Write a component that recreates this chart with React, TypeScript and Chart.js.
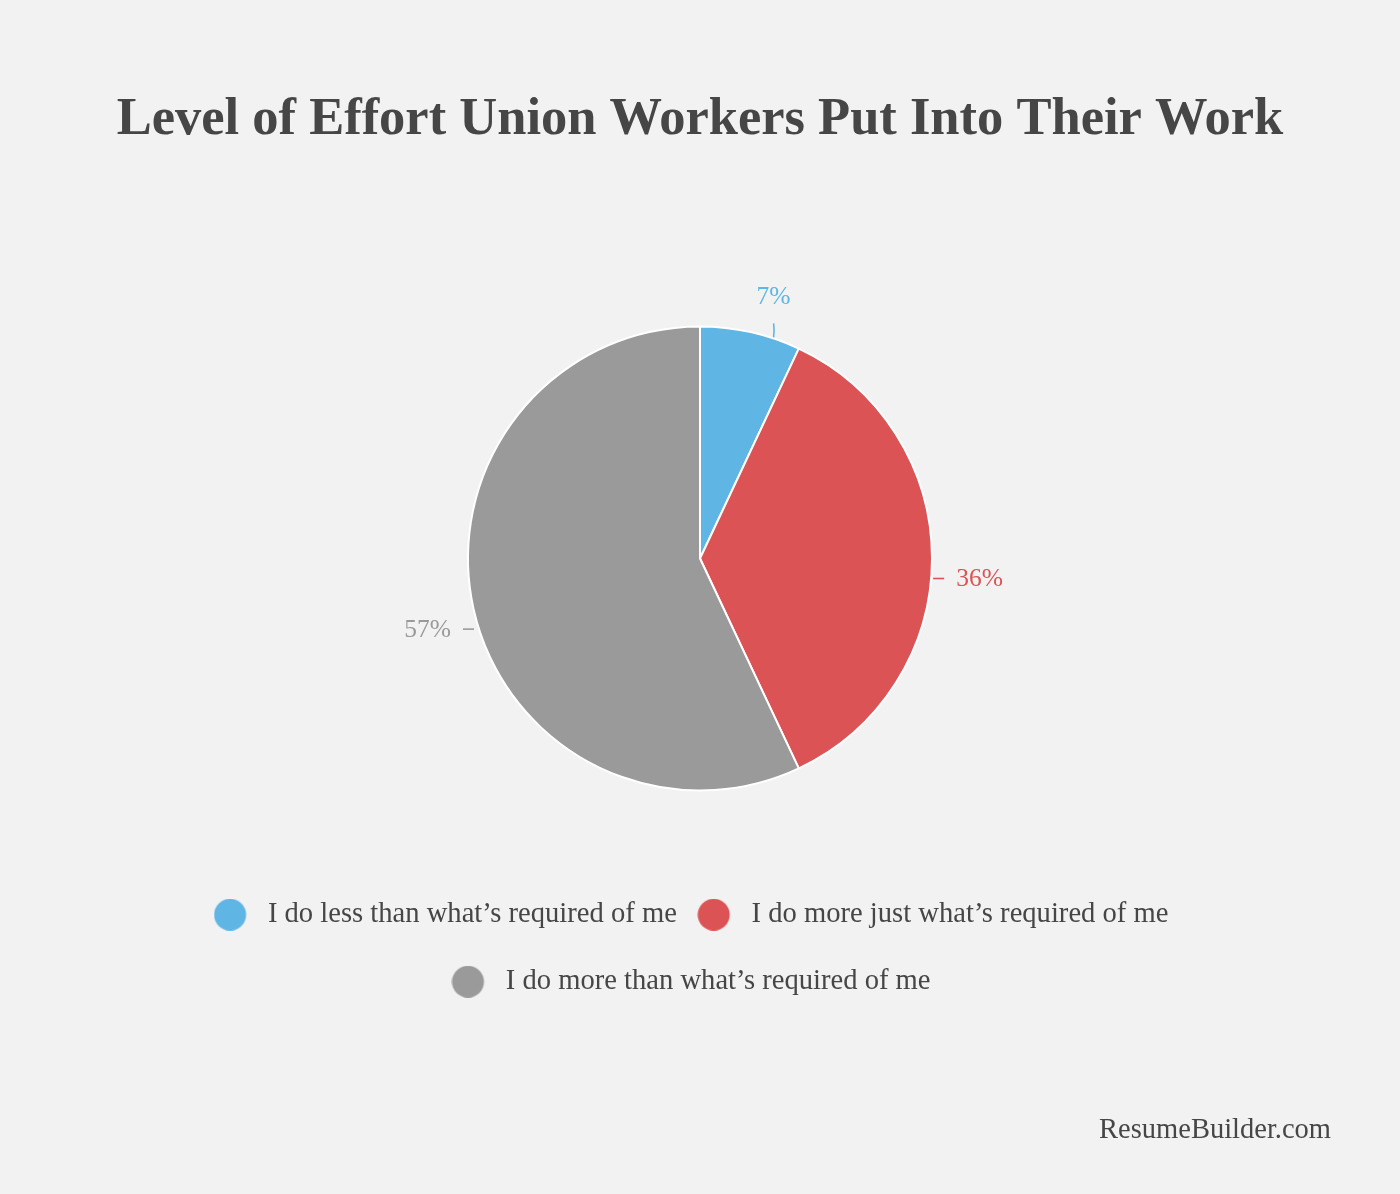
import React, { useEffect, useRef } from "react";
import { Chart, registerables } from "chart.js";

Chart.register(...registerables);

const TITLE = "Level of Effort Union Workers Put Into Their Work";
const SOURCE = "ResumeBuilder.com";
const CATEGORIES = [
  "I do less than what’s required of me",
  "I do more just what’s required of me",
  "I do more than what’s required of me",
];
const VALUES = [7, 36, 57];
const COLORS = ["#5fb5e4", "#dc5355", "#9a9a9a"];

const FONT = "'Liberation Serif', 'DejaVu Serif', serif";
const TEXT_COLOR = "#464646";

function makeDot(color: string): HTMLCanvasElement {
  const c = document.createElement("canvas");
  c.width = 58;
  c.height = 32;
  const g = c.getContext("2d")!;
  g.fillStyle = color;
  g.beginPath();
  g.arc(16.5, 16, 16, 0, Math.PI * 2);
  g.fill();
  return c;
}

const outLabels = {
  id: "outLabels",
  afterDatasetsDraw(chart: any) {
    const meta = chart.getDatasetMeta(0);
    const ctx = chart.ctx as CanvasRenderingContext2D;
    const ds = chart.data.datasets[0];
    meta.data.forEach((arc: any, i: number) => {
      const p = arc.getProps(["x", "y", "outerRadius", "startAngle", "endAngle"], true);
      const cx = p.x, cy = p.y, r = p.outerRadius;
      const mid = (p.startAngle + p.endAngle) / 2;
      const cs = Math.cos(mid), sn = Math.sin(mid);
      const color = ds.backgroundColor[i];
      const text = ds.data[i] + "%";
      ctx.save();
      ctx.strokeStyle = color;
      ctx.fillStyle = color;
      ctx.lineWidth = 1.6;
      ctx.font = `25.5px ${FONT}`;
      ctx.textBaseline = "middle";
      if (Math.abs(sn) > 0.9) {
        const dir = sn < 0 ? -1 : 1;
        const ax = cx + r * cs + 23;
        const ay = cy + dir * Math.sqrt(Math.max(r * r - (ax - cx) * (ax - cx), 0));
        ctx.beginPath();
        ctx.moveTo(ax, ay + dir * 1);
        ctx.quadraticCurveTo(ax + 1, ay + dir * 8, ax, ay + dir * 15);
        ctx.stroke();
        ctx.textAlign = "center";
        ctx.fillText(text, ax, ay + dir * 41);
      } else {
        const side = cs >= 0 ? 1 : -1;
        const ay = cy + r * sn + 20;
        const ax = cx + side * Math.sqrt(Math.max(r * r - (ay - cy) * (ay - cy), 0));
        const near = side > 0 ? 2 : 5;
        ctx.beginPath();
        ctx.moveTo(ax + side * near, ay);
        ctx.lineTo(ax + side * (near + 11), ay);
        ctx.stroke();
        ctx.textAlign = side > 0 ? "left" : "right";
        ctx.fillText(text, ax + side * (near + 23), ay + 1);
      }
      ctx.restore();
    });
  },
};

const footer = {
  id: "footer",
  afterDraw(chart: any) {
    const ctx = chart.ctx as CanvasRenderingContext2D;
    ctx.save();
    ctx.font = `28.5px ${FONT}`;
    ctx.fillStyle = TEXT_COLOR;
    ctx.textAlign = "right";
    ctx.textBaseline = "middle";
    ctx.fillText(SOURCE, 1331, 1131);
    ctx.restore();
  },
};

export default function App() {
  const ref = useRef<HTMLCanvasElement | null>(null);
  useEffect(() => {
    if (!ref.current) return;
    const dots = COLORS.map(makeDot);
    const chart = new Chart(ref.current, {
      type: "pie",
      data: {
        labels: CATEGORIES,
        datasets: [
          {
            data: VALUES,
            backgroundColor: COLORS,
            borderColor: "#ffffff",
            borderWidth: 2,
          },
        ],
      },
      options: {
        responsive: false,
        animation: false,
        radius: 232,
        layout: { padding: { top: 0, bottom: 188, left: 0, right: 0 } },
        plugins: {
          tooltip: { enabled: false },
          title: {
            display: true,
            text: TITLE,
            color: TEXT_COLOR,
            font: { family: FONT, size: 52.5, weight: "bold", lineHeight: 1.2 },
            padding: { top: 88.5, bottom: 103.5 },
          },
          legend: {
            display: true,
            position: "bottom",
            labels: {
              usePointStyle: true,
              pointStyleWidth: 22,
              padding: 38.4,
              color: TEXT_COLOR,
              font: { family: FONT, size: 28.6 },
              generateLabels: (ch: any) =>
                ch.data.labels.map((t: string, i: number) => ({
                  text: t,
                  fillStyle: COLORS[i],
                  strokeStyle: COLORS[i],
                  lineWidth: 0,
                  pointStyle: dots[i],
                  hidden: false,
                  index: i,
                  fontColor: TEXT_COLOR,
                })),
            },
          },
        },
      } as any,
      plugins: [outLabels, footer],
    });
    return () => chart.destroy();
  }, []);
  return (
    <div
      style={{
        position: "absolute",
        left: 0,
        top: 0,
        width: 1400,
        height: 1194,
        background: "#f2f2f2",
      }}
    >
      <canvas ref={ref} width={1400} height={1194} style={{ display: "block" }} />
    </div>
  );
}
